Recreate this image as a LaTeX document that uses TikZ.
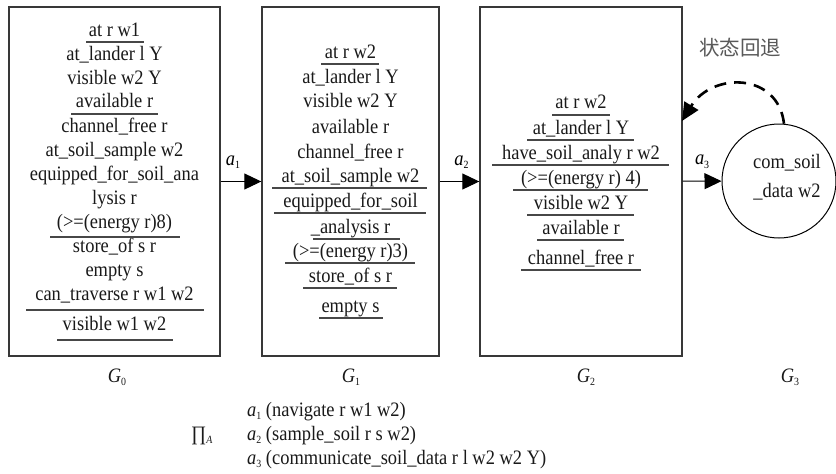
\documentclass[tikz,border=0pt]{standalone}
\usepackage{fontspec}
\setmainfont{Liberation Serif}[FakeStretch=0.9]
\newfontfamily\cjk{Noto Sans CJK SC}
\usetikzlibrary{arrows.meta}
\newcommand{\lowsub}[1]{\raisebox{-0.35ex}{\fontsize{11}{11}\selectfont #1}}
\newcommand{\txtsize}{\fontsize{20.5}{24}\selectfont}
\tikzset{
  box/.style={draw=black!78, line width=1.4pt, rectangle, minimum width=#1, inner sep=0pt},
  row/.style={anchor=base, inner sep=0pt, font=\txtsize, text=black!90},
  uline/.style={draw=black!72, line width=1.2pt},
  arr/.style={draw=black, line width=1pt, -{Triangle[length=17pt, width=16pt]}},
  back/.style={draw=black, line width=2.6pt, dash pattern=on 12pt off 8pt, -{Triangle[length=18pt, width=16pt]}},
  lab/.style={anchor=base, inner sep=0pt, font=\txtsize, text=black!90},
}
\begin{document}
\begin{tikzpicture}[x=1pt, y=-1pt]
\useasboundingbox (0,0) rectangle (836,474);
% boxes
\node[box=211pt, minimum height=349pt] (g0) at (114.5,181.5) {};
\node[box=177pt, minimum height=349pt] (g1) at (350.5,181.5) {};
\node[box=202pt, minimum height=349pt] (g2) at (581,181.5) {};
\node[circle, draw=black, line width=1pt, minimum size=114pt, inner sep=0pt] (g3) at (779,181) {};
\node[row] (g3a) at (787,168) {com\_soil};
\node[row] (g3b) at (787,197) {\_data w2};
% G0 rows
\node[row] (r01) at (114.5,36) {at r w1};
\node[row] (r02) at (114.5,60) {at\_lander l Y};
\node[row] (r03) at (114.5,84) {visible w2 Y};
\node[row] (r04) at (114.5,107) {available r};
\node[row] (r05) at (114.5,132) {channel\_free r};
\node[row] (r06) at (114.5,156) {at\_soil\_sample w2};
\node[row] (r07) at (114.5,180) {equipped\_for\_soil\_ana};
\node[row] (r08) at (114.5,204) {lysis r};
\node[row] (r09) at (114.5,228) {(>=(energy r)8)};
\node[row] (r10) at (114.5,252) {store\_of s r};
\node[row] (r11) at (114.5,276) {empty s};
\node[row] (r12) at (114.5,300) {can\_traverse r w1 w2};
\node[row] (r13) at (114.5,330) {visible w1 w2};
\draw[uline] (86,42) -- (144,42);
\draw[uline] (71,114) -- (158,114);
\draw[uline] (50,237) -- (180,237);
\draw[uline] (26,310) -- (204,310);
\draw[uline] (57,340) -- (173,340);
% G1 rows
\node[row] (r21) at (350.5,58) {at r w2};
\node[row] (r22) at (350.5,83) {at\_lander l Y};
\node[row] (r23) at (350.5,107) {visible w2 Y};
\node[row] (r24) at (350.5,133) {available r};
\node[row] (r25) at (350.5,158) {channel\_free r};
\node[row] (r26) at (350.5,182) {at\_soil\_sample w2};
\node[row] (r27) at (350.5,207) {equipped\_for\_soil};
\node[row] (r28) at (350.5,233) {\_analysis r};
\node[row] (r29) at (350.5,257) {(>=(energy r)3)};
\node[row] (r210) at (350.5,282) {store\_of s r};
\node[row] (r211) at (350.5,312) {empty s};
\draw[uline] (321,64) -- (379,64);
\draw[uline] (272,188) -- (427,188);
\draw[uline] (274,213) -- (426,213);
\draw[uline] (313,239) -- (400,239);
\draw[uline] (285,263) -- (415,263);
\draw[uline] (303,288) -- (397,288);
\draw[uline] (319,318) -- (383,318);
% G2 rows
\node[row] (r31) at (581,108) {at r w2};
\node[row] (r32) at (581,134) {at\_lander l Y};
\node[row] (r33) at (581,159) {have\_soil\_analy r w2};
\node[row] (r34) at (581,184) {(>=(energy r) 4)};
\node[row] (r35) at (581,209) {visible w2 Y};
\node[row] (r36) at (581,234) {available r};
\node[row] (r37) at (581,264) {channel\_free r};
\draw[uline] (552,115) -- (610,115);
\draw[uline] (527,140) -- (634,140);
\draw[uline] (492,165) -- (669,165);
\draw[uline] (513,190) -- (648,190);
\draw[uline] (527,215) -- (634,215);
\draw[uline] (537,240) -- (624,240);
\draw[uline] (521,270) -- (641,270);
% connectors
\draw[arr] (g0) -- (g1) node[pos=0.3, above=9pt, font=\txtsize] (l1) {\textit{a}\lowsub{1}};
\draw[arr] (g1) -- (g2) node[pos=0.55, above=9pt, font=\txtsize] (l2) {\textit{a}\lowsub{2}};
\draw[arr] (g2) -- (g3) node[pos=0.5, above=9pt, font=\txtsize] (l3) {\textit{a}\lowsub{3}};
\coordinate (ret) at (682,121);
\draw[back] (g3.85) .. controls (778,72) and (712,72) .. (ret);
\node[lab, text=black!65] (back) at (740,55) {\cjk 状态回退};
% graph labels
\node[lab] (G0) at (117,382) {\textit{G}\lowsub{0}};
\node[lab] (G1) at (351,382) {\textit{G}\lowsub{1}};
\node[lab] (G2) at (586,382) {\textit{G}\lowsub{2}};
\node[lab] (G3) at (790,382) {\textit{G}\lowsub{3}};
% action list
\node[lab, anchor=base west] (pa) at (191,440) {∏\lowsub{\textit{A}}};
\node[lab, anchor=base west] (a1) at (247,416) {\textit{a}\lowsub{1} (navigate r w1 w2)};
\node[lab, anchor=base west] (a2) at (247,440) {\textit{a}\lowsub{2} (sample\_soil r s w2)};
\node[lab, anchor=base west] (a3) at (247,464) {\textit{a}\lowsub{3} (communicate\_soil\_data r l w2 w2 Y)};
\end{tikzpicture}
\end{document}
